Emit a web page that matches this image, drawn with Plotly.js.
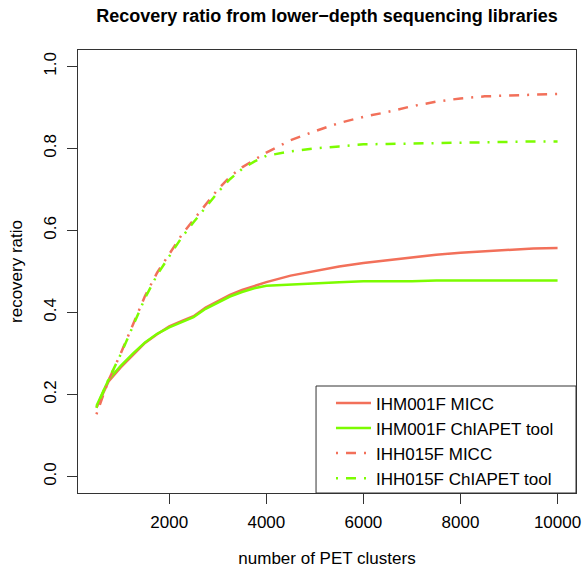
<!DOCTYPE html>
<html>
<head>
<meta charset="utf-8">
<script src="https://cdn.plot.ly/plotly-3.0.1.min.js"></script>
<style>
  html, body { margin: 0; padding: 0; background: #ffffff; }
  #chart { width: 584px; height: 571px; }
</style>
</head>
<body>
<div id="chart"></div>
<script>
// Number of PET clusters (x values shared by all series)
const petClusters = [500, 750, 1000, 1250, 1500, 1750, 2000, 2250, 2500, 2750, 3000, 3250, 3500, 3750, 4000, 4500, 5000, 5500, 6000, 6500, 7000, 7500, 8000, 8500, 9000, 9500, 10000];

// Recovery ratios
const ihm001fMicc = [0.168, 0.232, 0.266, 0.296, 0.326, 0.347, 0.366, 0.379, 0.391, 0.412, 0.428, 0.443, 0.455, 0.465, 0.474, 0.490, 0.501, 0.512, 0.521, 0.528, 0.535, 0.541, 0.546, 0.549, 0.553, 0.556, 0.557];
const ihm001fChiapet = [0.172, 0.236, 0.270, 0.300, 0.327, 0.348, 0.364, 0.377, 0.389, 0.409, 0.425, 0.439, 0.450, 0.459, 0.465, 0.468, 0.472, 0.474, 0.476, 0.476, 0.476, 0.478, 0.478, 0.478, 0.478, 0.478, 0.478];
const ihh015fMicc = [0.152, 0.235, 0.300, 0.372, 0.440, 0.497, 0.543, 0.588, 0.626, 0.662, 0.700, 0.731, 0.754, 0.772, 0.790, 0.820, 0.842, 0.862, 0.877, 0.889, 0.903, 0.914, 0.922, 0.927, 0.929, 0.930, 0.933];
const ihh015fChiapet = [0.168, 0.237, 0.298, 0.368, 0.435, 0.492, 0.538, 0.582, 0.620, 0.656, 0.693, 0.725, 0.750, 0.768, 0.782, 0.793, 0.800, 0.805, 0.810, 0.811, 0.812, 0.813, 0.815, 0.815, 0.816, 0.817, 0.817];

const seriesNames = ["IHM001F MICC", "IHM001F ChIAPET tool", "IHH015F MICC", "IHH015F ChIAPET tool"];

const xTicks = [2000, 4000, 6000, 8000, 10000];
const yTicks = [0, 0.2, 0.4, 0.6, 0.8, 1.0];
const yTickText = ["0.0", "0.2", "0.4", "0.6", "0.8", "1.0"];

const RED = "#F2705A";
const GREEN = "#7CFC00";
const DOTDASH = "2px,8px,10px,8px";
const FONT = "Liberation Sans, Arial, Helvetica, sans-serif";

const traces = [
  { x: petClusters, y: ihm001fMicc, name: seriesNames[0], color: RED, dash: "solid" },
  { x: petClusters, y: ihm001fChiapet, name: seriesNames[1], color: GREEN, dash: "solid" },
  { x: petClusters, y: ihh015fMicc, name: seriesNames[2], color: RED, dash: DOTDASH },
  { x: petClusters, y: ihh015fChiapet, name: seriesNames[3], color: GREEN, dash: DOTDASH }
].map(s => ({
  type: "scatter",
  mode: "lines",
  x: s.x,
  y: s.y,
  name: s.name,
  line: { color: s.color, width: 2.5, dash: s.dash }
}));

const layout = {
  width: 584,
  height: 571,
  margin: { l: 78, r: 8, t: 50, b: 78 },
  paper_bgcolor: "#ffffff",
  plot_bgcolor: "#ffffff",
  font: { family: FONT, size: 17, color: "#000000" },
  title: {
    text: "Recovery ratio from lower\u2212depth sequencing libraries",
    font: { family: FONT, size: 18, weight: 700, color: "#000000" },
    x: 0.5, xref: "paper", xanchor: "center",
    y: 1 - 16 / 571, yref: "container", yanchor: "middle"
  },
  xaxis: {
    range: [120, 10380],
    tickvals: xTicks,
    ticktext: xTicks.map(String),
    ticks: "outside",
    ticklen: 10,
    tickwidth: 1,
    tickcolor: "#333333",
    ticklabelstandoff: 4,
    showline: true,
    linecolor: "#333333",
    linewidth: 1,
    mirror: true,
    showgrid: false,
    zeroline: false,
    title: { text: "number of PET clusters", standoff: 20, font: { size: 17 } }
  },
  yaxis: {
    range: [-0.04, 1.04],
    tickvals: yTicks,
    ticktext: yTickText,
    tickangle: -90,
    ticks: "outside",
    ticklen: 10,
    tickwidth: 1,
    tickcolor: "#333333",
    ticklabelstandoff: 4,
    showline: true,
    linecolor: "#333333",
    linewidth: 1,
    mirror: true,
    showgrid: false,
    zeroline: false,
    title: { text: "recovery ratio", standoff: 14, font: { size: 17 } }
  },
  legend: {
    x: 0.508, y: 0.243, xanchor: "left", yanchor: "top",
    xref: "paper", yref: "paper",
    bgcolor: "rgba(0,0,0,0)",
    borderwidth: 0,
    font: { family: FONT, size: 17 },
    itemwidth: 35,
    tracegroupgap: 0
  },
  shapes: [{
    type: "rect", xref: "paper", yref: "paper",
    x0: 0.478, x1: 1, y0: 0, y1: 0.2415,
    line: { color: "#333333", width: 1 },
    fillcolor: "rgba(0,0,0,0)",
    layer: "above"
  }],
  showlegend: true
};

Plotly.newPlot("chart", traces, layout, { displayModeBar: false, staticPlot: true });
</script>
</body>
</html>
